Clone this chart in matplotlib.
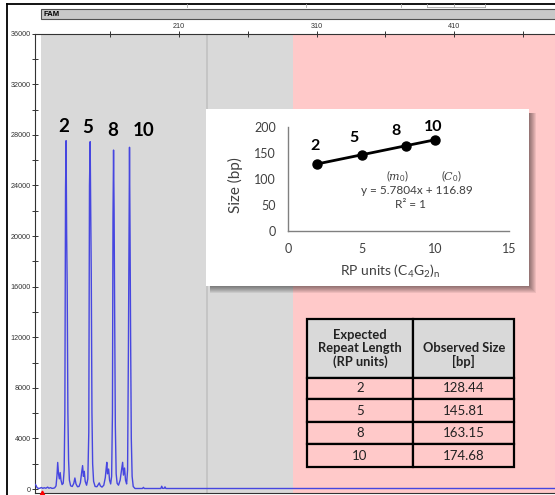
import matplotlib
matplotlib.use("Agg")
import matplotlib.pyplot as plt
from matplotlib.patches import Rectangle
from matplotlib.lines import Line2D

# ---------------- data ----------------
repeat_units = [2, 5, 8, 10]
observed_size = [128.44, 145.81, 163.15, 174.68]
fit_slope = 5.7804
fit_intercept = 116.89
fit_r2 = 1

# electropherogram trace (size in bp, signal in RFU)
trace_bp = [105.4, 106.0, 106.7, 107.6, 108.8, 110.0, 110.9, 112.0, 113.2, 114.5, 115.4, 116.6, 117.6,
            118.6, 119.6, 120.6, 121.3, 121.8, 122.4, 123.0, 123.6, 124.2, 125.0, 125.8, 126.5,
            127.0, 127.5, 127.9, 128.3, 128.7, 129.2, 129.7, 130.3, 131.2, 132.4, 133.5, 134.3,
            135.1, 136.2, 137.3, 138.3, 139.2, 139.9, 140.5, 141.1, 141.8, 142.8, 143.7, 144.4,
            144.9, 145.4, 145.8, 146.2, 146.7, 147.2, 147.9, 149.0, 150.3, 151.3, 152.0, 152.8,
            154.0, 155.3, 156.4, 157.1, 157.5, 158.0, 158.8, 159.5, 160.3, 161.0, 161.6, 162.0,
            162.4, 162.8, 163.2, 163.7, 164.3, 165.0, 166.0, 167.2, 168.2, 169.0, 169.6, 170.4,
            171.1, 171.9, 172.6, 173.2, 173.7, 174.0, 174.4, 174.8, 175.3, 175.9, 176.7, 178.0,
            183.4, 184.1, 184.8, 196.8, 197.4, 198.1, 199.2, 199.8, 200.4, 483.5]
trace_rfu = [360, 300, 120, 50, 60, 120, 50, 100, 60, 150, 60, 110, 50,
             60, 90, 250, 1100, 2100, 1200, 800, 1300, 700, 350, 450, 1500,
             6000, 23700, 27540, 20200, 16000, 6100, 2300, 700, 250, 200, 450, 870,
             400, 180, 200, 500, 1300, 1850, 1000, 1400, 600, 300, 800, 4500,
             24000, 27460, 22000, 17000, 6000, 2000, 600, 200, 180, 350, 480, 250,
             150, 300, 900, 1700, 2110, 1200, 1580, 700, 400, 1000, 6000, 21500,
             26800, 22000, 14000, 5000, 1200, 450, 300, 700, 1500, 2110, 1100, 1660,
             700, 400, 1500, 11000, 21000, 27020, 20000, 12000, 4000, 1000, 200, 40,
             40, 130, 40, 40, 220, 50, 50, 170, 40, 40]

rfu_ticks = [0, 4000, 8000, 12000, 16000, 20000, 24000, 28000, 32000, 36000]
rfu_minor_ticks = [2000, 6000, 10000, 14000, 18000, 22000, 26000, 30000, 34000]
bp_ticks = [160, 210, 260, 310, 360, 410, 460]
bp_tick_labels = ["", "210", "", "310", "", "410", ""]
inset_x_ticks = [0, 5, 10, 15]
inset_y_ticks = [0, 50, 100, 150, 200]
peak_labels = ["2", "5", "8", "10"]
table_headers = ["Expected\nRepeat Length\n(RP units)", "\nObserved Size\n[bp]"]
dye_label = "FAM"

# ---------------- layout / style ----------------
plt.rcParams["font.family"] = ["Liberation Sans", "DejaVu Sans"]
plt.rcParams["mathtext.fontset"] = "custom"
plt.rcParams["mathtext.rm"] = "Lato"
plt.rcParams["mathtext.it"] = "DejaVu Serif:italic"
plt.rcParams["mathtext.bf"] = "Lato:bold"

W, H = 555, 495
fig = plt.figure(figsize=(W / 100, H / 100), dpi=100)
fig.patch.set_facecolor("white")


def fx(px):
    return px / W


def fy(py):
    return 1 - py / H


def box(x0, y0, x1, y1):
    return [fx(x0), fy(y1), (x1 - x0) / W, (y1 - y0) / H]


GRAY = "#d9d9d9"
PINK = "#ffc9c9"
TRACE = "#4646e0"
TXT = "#404040"

# ---- main electropherogram ----
ax = fig.add_axes(box(35, 33.7, 555, 493))
ax.set_xlim(105.3, 483.3)
ax.set_ylim(-316, 36000)
ax.axvspan(109.4, 293.1, color=GRAY, lw=0, zorder=0)
ax.axvspan(293.1, 483.3, color=PINK, lw=0, zorder=0)
ax.axvline(230.1, color="#c3c3c3", lw=1.3, zorder=1)
ax.plot(trace_bp, trace_rfu, color=TRACE, lw=1.0, zorder=3)
ax.plot([110.2], [-290], marker="^", color="red", ms=3.5, clip_on=False, zorder=5, lw=0)

ax.spines["right"].set_visible(False)
for s in ["left", "top", "bottom"]:
    ax.spines[s].set_color("#333333")
    ax.spines[s].set_linewidth(0.8)
ax.xaxis.tick_top()
ax.set_xticks(bp_ticks)
ax.set_xticklabels(bp_tick_labels)
ax.tick_params(axis="x", which="major", direction="inout", length=4, width=0.7,
               colors="#333333", labelsize=5.2, pad=1)
ax.set_yticks(rfu_ticks)
ax.set_yticks(rfu_minor_ticks, minor=True)
ax.tick_params(axis="y", which="major", direction="inout", length=5, width=0.7,
               colors="#333333", labelsize=5.2, pad=0.5)
ax.tick_params(axis="y", which="minor", direction="inout", length=4, width=0.7, colors="#333333")

peak_label_pos = [(125.9, 28700), (143.4, 28600), (161.8, 28330), (184.1, 28330)]
for lab, (x, y) in zip(peak_labels, peak_label_pos):
    ax.text(x, y, lab, ha="center", va="center", fontsize=13.5, fontweight="bold",
            family=["Lato", "DejaVu Sans"], color="black", zorder=6)

# ---- header bar and frame ----
fig.add_artist(Rectangle((fx(41), fy(19)), (565 - 41) / W, (19 - 9.3) / H,
                         transform=fig.transFigure, facecolor="#c8c8c8",
                         edgecolor="#505050", lw=0.8, zorder=2))
fig.text(fx(43.5), fy(14.4), dye_label, fontsize=5.5, fontweight="bold", va="center",
         ha="left", color="black", zorder=3)
fig.add_artist(Line2D([fx(6.5), 1], [fy(4.3), fy(4.3)], color="black", lw=1.3,
                      transform=fig.transFigure, zorder=3))
fig.add_artist(Line2D([fx(6.5), fx(6.5)], [fy(4.3), 0], color="black", lw=1.3,
                      transform=fig.transFigure, zorder=3))
for px in [187, 306, 401, 427, 454, 485]:
    fig.add_artist(Line2D([fx(px), fx(px)], [fy(4.3), fy(7.3)], color="#aaaaaa", lw=0.6,
                          transform=fig.transFigure, zorder=3))
fig.add_artist(Line2D([fx(427), fx(485)], [fy(7.3), fy(7.3)], color="#aaaaaa", lw=0.6,
                      transform=fig.transFigure, zorder=3))

# ---- inset chart (with shadow) ----
for k in range(1, 8):
    fig.add_artist(Rectangle((fx(210), fy(285.7 + k)), (529.3 + k - 210) / W,
                             (285.7 + k - 113) / H, transform=fig.transFigure,
                             facecolor="black", alpha=0.07, lw=0, zorder=2))
axbox = fig.add_axes(box(206, 109.3, 529.3, 285.7), zorder=3)
axbox.set_facecolor("white")
axbox.set_xticks([])
axbox.set_yticks([])
for s in axbox.spines.values():
    s.set_visible(False)

ax_in = fig.add_axes(box(288, 126.5, 509, 231), zorder=4)
ax_in.set_facecolor("none")
ax_in.set_xlim(0, 15)
ax_in.set_ylim(0, 200)
ax_in.spines["top"].set_visible(False)
ax_in.spines["right"].set_visible(False)
for s in ["left", "bottom"]:
    ax_in.spines[s].set_color("#808080")
    ax_in.spines[s].set_linewidth(1.0)
ax_in.set_xticks(inset_x_ticks)
ax_in.set_yticks(inset_y_ticks)
ax_in.tick_params(length=0, labelsize=9, colors=TXT, pad=8.5)
for t in ax_in.get_xticklabels() + ax_in.get_yticklabels():
    t.set_family(["Lato", "DejaVu Sans"])
ax_in.plot(repeat_units, observed_size, color="black", lw=2, marker="o", ms=6.5,
           clip_on=False, zorder=3)
point_label_offsets = [(-1.9, 12.7), (-5.2, 11.8), (-7.1, 10.4), (-1.4, 9.1)]
for lab, xv, yv, off in zip(peak_labels, repeat_units, observed_size, point_label_offsets):
    ax_in.annotate(lab, (xv, yv), xytext=off, textcoords="offset points",
                   ha="center", va="center", fontsize=11.5, fontweight="bold",
                   family=["Lato", "DejaVu Sans"], color="black")

fig.text(fx(235), fy(185), "Size (bp)", rotation=90, ha="center", va="center",
         fontsize=11, color=TXT, family=["Lato", "DejaVu Sans"], zorder=5)
fig.text(fx(390), fy(271), r"RP units (C$_4$G$_2$)$_\mathrm{n}$", ha="center", va="center",
         fontsize=10, color=TXT, family=["Lato", "DejaVu Sans"], zorder=5)
fig.text(fx(397), fy(175.7), "($m_0$)", ha="center", va="center", fontsize=8,
         color=TXT, family=["Lato", "DejaVu Sans"], zorder=5)
fig.text(fx(451), fy(175.7), "($C_0$)", ha="center", va="center", fontsize=8,
         color=TXT, family=["Lato", "DejaVu Sans"], zorder=5)
fig.text(fx(416.7), fy(190), f"y = {fit_slope}x + {fit_intercept}", ha="center", va="center",
         fontsize=8.5, color=TXT, family=["Lato", "DejaVu Sans"], zorder=5)
fig.text(fx(410.7), fy(205), f"R² = {fit_r2}", ha="center", va="center",
         fontsize=8.5, color=TXT, family=["Lato", "DejaVu Sans"], zorder=5)

# ---- table ----
ax_t = fig.add_axes(box(306.7, 319.3, 514.3, 466.7), zorder=3)
ax_t.axis("off")
cell_text = [[str(u), f"{s:.2f}"] for u, s in zip(repeat_units, observed_size)]
tbl = ax_t.table(cellText=cell_text, colLabels=table_headers, cellLoc="center",
                 bbox=[0, 0, 1, 1])
tbl.auto_set_font_size(False)
col_w = [106.6, 101.0]
row_h = [58.4, 21.6, 22.7, 22.3, 22.4]
for (r, c), cell in tbl.get_celld().items():
    cell.set_width(col_w[c])
    cell.set_height(row_h[r])
    cell.set_edgecolor("black")
    cell.set_linewidth(1.6)
    txt = cell.get_text()
    txt.set_family(["Lato", "DejaVu Sans"])
    txt.set_color("#222222")
    if r == 0:
        cell.set_facecolor(GRAY)
        txt.set_fontweight("bold")
        txt.set_fontsize(9.3)
        txt.set_linespacing(1.1)
    else:
        cell.set_facecolor(PINK)
        txt.set_fontsize(9.5)

fig.savefig("out.png", dpi=100)
